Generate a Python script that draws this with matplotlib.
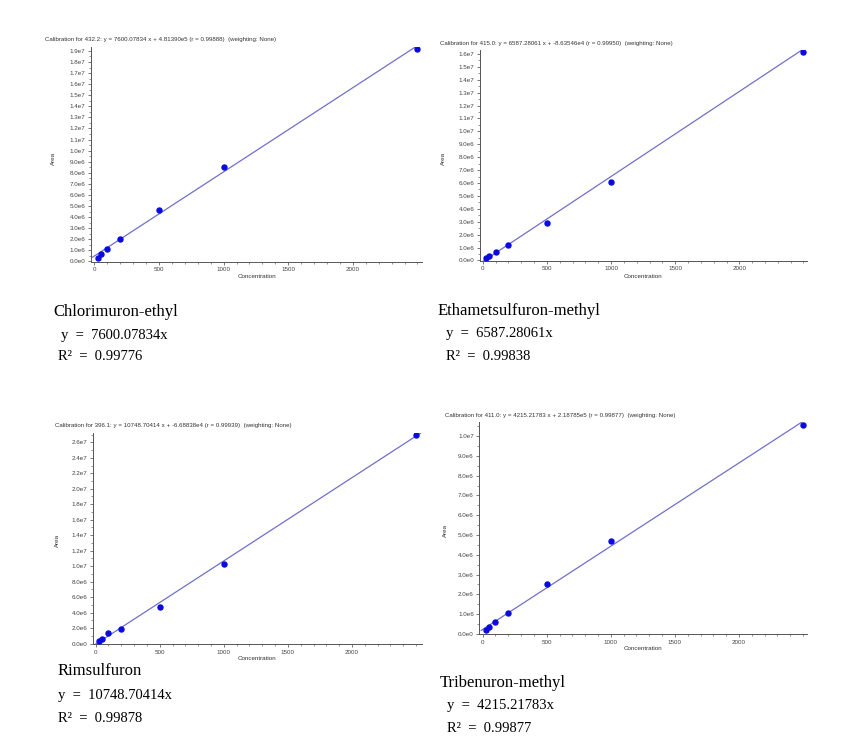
import matplotlib
matplotlib.use("Agg")
import matplotlib.pyplot as plt
import numpy as np
from matplotlib.ticker import FuncFormatter, MultipleLocator, AutoMinorLocator, FixedLocator

W, H = 851, 755
fig = plt.figure(figsize=(W / 100, H / 100), dpi=100)

# ---------------- data ----------------
conc = [25, 50, 100, 200, 500, 1000, 2500]
xticks = [0, 500, 1000, 1500, 2000]

names = ["Chlorimuron-ethyl", "Ethametsulfuron-methyl", "Rimsulfuron", "Tribenuron-methyl"]
ions = ["432.2", "415.0", "396.1", "411.0"]
slopes = [7600.07834, 6587.28061, 10748.70414, 4215.21783]
intercepts = [4.81390e5, -8.63546e4, -6.68838e4, 2.18785e5]
intercept_txt = ["4.81390e5", "-8.63546e4", "-6.68838e4", "2.18785e5"]
r_vals = ["0.99888", "0.99950", "0.99939", "0.99877"]
r2_vals = ["0.99776", "0.99838", "0.99878", "0.99877"]

area_chlorimuron = [0.33e6, 0.66e6, 1.11e6, 1.98e6, 4.62e6, 8.56e6, 1.916e7]
area_ethamet = [0.18e6, 0.33e6, 0.64e6, 1.18e6, 2.93e6, 6.05e6, 1.615e7]
area_rimsulf = [0.30e6, 0.60e6, 1.38e6, 1.94e6, 4.79e6, 1.026e7, 2.70e7]
area_tribenuron = [0.17e6, 0.32e6, 0.59e6, 1.05e6, 2.50e6, 4.72e6, 1.057e7]
areas = [area_chlorimuron, area_ethamet, area_rimsulf, area_tribenuron]

# ---------------- layout (pixel boxes) ----------------
# (left, right, top, bottom) in pixels
boxes = [(90.7, 422, 46.5, 261.7),
         (480, 806.7, 50, 260.7),
         (92.7, 421.7, 433, 644),
         (479.3, 806.7, 422, 634)]
xlims = [(-28, 2535), (-21, 2525), (-23, 2544), (-26, 2528)]
ylims = [(-0.03e6, 1.94e7), (-0.02e6, 1.63e7), (-0.05e6, 2.72e7), (-0.01e6, 1.072e7)]
ymajor = [1e6, 1e6, 2e6, 1e6]
title_pos = [(45, 40), (440, 44), (55, 425), (445, 416)]
xlabel_pos = [(257, 277), (643, 277), (257, 659), (643, 648)]
ylabel_pos = [(53, 158), (443, 158), (57, 540), (445, 530)]
cap_pos = [((53, 312), (61, 335), (58, 356)),
           ((438, 311), (446, 334), (446, 356)),
           ((58, 671), (58, 695), (58, 718)),
           ((440, 683), (447, 706), (447, 728))]


def fmt(v, pos):
    if abs(v) < 1e-9:
        return "0.0e0"
    e = int(np.floor(np.log10(abs(v)) + 1e-9))
    return f"{v / 10 ** e:.1f}e{e}"


line_color = "#7070cc"
pt_color = "#0a0ae0"
tick_color = "#444444"
small = 4.5
sans = "Liberation Sans"
serif = "Liberation Serif"

for i in range(4):
    l, r, t, b = boxes[i]
    ax = fig.add_axes([l / W, 1 - b / H, (r - l) / W, (b - t) / H])
    ax.set_xlim(*xlims[i])
    ax.set_ylim(*ylims[i])
    xs = np.array(ax.get_xlim()) + np.array([15, -5])
    ax.plot(xs, slopes[i] * xs + intercepts[i], color=line_color, lw=0.9, zorder=2)
    ax.plot(conc, areas[i], "o", ms=3.6, color=pt_color, mec=pt_color, zorder=3)
    for s in ["top", "right"]:
        ax.spines[s].set_visible(False)
    for s in ["left", "bottom"]:
        ax.spines[s].set_color("#555555")
        ax.spines[s].set_linewidth(0.7)
    ax.xaxis.set_major_locator(FixedLocator(xticks))
    ax.xaxis.set_minor_locator(MultipleLocator(100))
    ax.yaxis.set_major_locator(MultipleLocator(ymajor[i]))
    ax.yaxis.set_minor_locator(AutoMinorLocator(2))
    ax.yaxis.set_major_formatter(FuncFormatter(fmt))
    ax.tick_params(axis="both", which="major", labelsize=small, length=2.5, width=0.5,
                   colors=tick_color, pad=1.5)
    ax.tick_params(axis="both", which="minor", length=1.5, width=0.4, colors=tick_color)
    for lab in ax.get_xticklabels() + ax.get_yticklabels():
        lab.set_family(sans)
    ax.set_facecolor("white")

    fig.text(title_pos[i][0] / W, 1 - title_pos[i][1] / H,
             f"Calibration for {ions[i]}: y = {slopes[i]:.5f} x + {intercept_txt[i]} "
             f"(r = {r_vals[i]})  (weighting: None)",
             fontsize=4.4, family=sans, color="#333333", ha="left", va="center")
    fig.text(xlabel_pos[i][0] / W, 1 - xlabel_pos[i][1] / H, "Concentration",
             fontsize=small, family=sans, color="#333333", ha="center", va="center")
    fig.text(ylabel_pos[i][0] / W, 1 - ylabel_pos[i][1] / H, "Area",
             fontsize=small, family=sans, color="#333333", ha="center", va="center",
             rotation=90)

    (n_xy, y_xy, r_xy) = cap_pos[i]
    fig.text(n_xy[0] / W, 1 - n_xy[1] / H, names[i], fontsize=12.0,
             family=serif, ha="left", va="center")
    fig.text(y_xy[0] / W, 1 - y_xy[1] / H, f"y  =  {slopes[i]:.5f}x", fontsize=10.5,
             family=serif, ha="left", va="center")
    fig.text(r_xy[0] / W, 1 - r_xy[1] / H, f"R\u00b2  =  {r2_vals[i]}", fontsize=10.5,
             family=serif, ha="left", va="center")

fig.savefig("out.png", dpi=100, facecolor="white")
